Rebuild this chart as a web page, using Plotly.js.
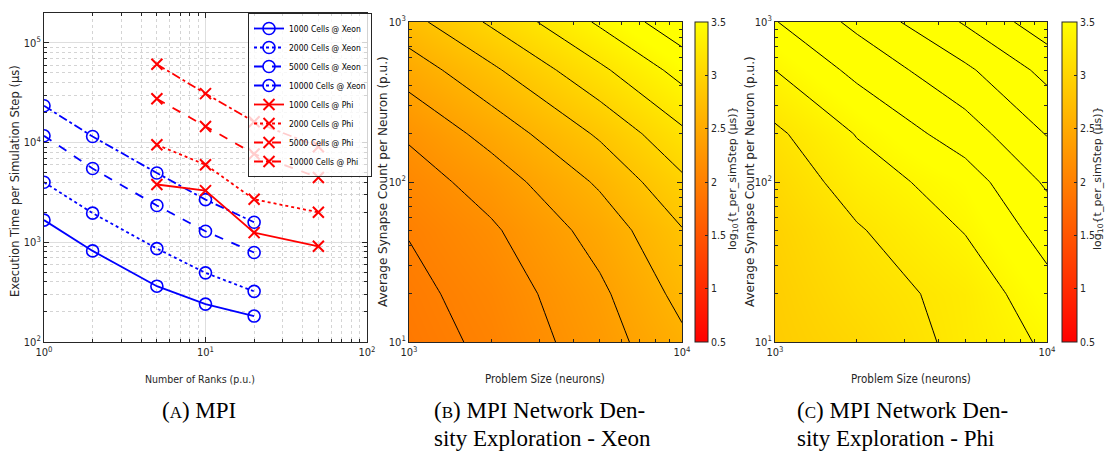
<!DOCTYPE html>
<html><head><meta charset="utf-8">
<script src="https://cdn.plot.ly/plotly-3.0.1.min.js"></script>
<style>html,body{margin:0;padding:0;background:#fff;} #chart{width:1108px;height:454px;}</style>
</head><body><div id="chart"></div>
<script>
// ---------- data: panel (a) ----------
const ranksXeon = [1, 2, 5, 10, 20];
const ranksPhi = [5, 10, 20, 50];
const xeon1000 = [1670, 820, 363, 240, 182];
const xeon2000 = [4000, 1960, 865, 494, 322];
const xeon5000 = [11700, 5500, 2340, 1290, 790];
const xeon10000 = [23400, 11500, 4960, 2680, 1590];
const phi1000 = [3800, 3300, 1250, 912];
const phi2000 = [9500, 6000, 2700, 2000];
const phi5000 = [27500, 14500, 7700, 4460];
const phi10000 = [61000, 31000, 16200, 9100];
const xeonNames = ['1000 Cells @ Xeon', '2000 Cells @ Xeon', '5000 Cells @ Xeon', '10000 Cells @ Xeon'];
const phiNames = ['1000 Cells @ Phi', '2000 Cells @ Phi', '5000 Cells @ Phi', '10000 Cells @ Phi'];
const rankTickVals = [1, 10, 100];
const rankTickText = ['10<sup>0</sup>', '10<sup>1</sup>', '10<sup>2</sup>'];
const timeTickVals = [100, 1000, 10000, 100000];
const timeTickText = ['10<sup>2</sup>', '10<sup>3</sup>', '10<sup>4</sup>', '10<sup>5</sup>'];

// ---------- data: panels (b) and (c) ----------
const problemSize = [1000, 2000, 5000, 10000];
const synapseCount = [10, 20, 50, 100, 200, 500, 1000];
const xeonLogT = [
  [1.92, 2.04, 2.31, 2.56],
  [1.95, 2.08, 2.36, 2.66],
  [2.01, 2.17, 2.48, 2.79],
  [2.10, 2.29, 2.63, 2.96],
  [2.23, 2.47, 2.83, 3.16],
  [2.49, 2.76, 3.16, 3.47],
  [2.73, 3.03, 3.43, 3.74]
];
const phiLogT = [
  [2.90, 3.03, 3.26, 3.43],
  [2.92, 3.10, 3.27, 3.53],
  [2.97, 3.18, 3.41, 3.68],
  [3.05, 3.30, 3.50, 3.83],
  [3.16, 3.41, 3.70, 4.01],
  [3.40, 3.65, 3.96, 4.26],
  [3.59, 3.85, 4.22, 4.52]
];
const sizeTickVals = [1000, 10000];
const sizeTickText = ['10<sup>3</sup>', '10<sup>4</sup>'];
const synTickVals = [10, 100, 1000];
const synTickText = ['10<sup>1</sup>', '10<sup>2</sup>', '10<sup>3</sup>'];
const cbTickVals = [0.5, 1, 1.5, 2, 2.5, 3, 3.5];
const cbTickText = ['0.5', '1', '1.5', '2', '2.5', '3', '3.5'];

// ---------- styling ----------
const W = 1108, H = 454;
const AX = '#262626';
const NARROW = 'DejaVu Sans Condensed, Liberation Sans Narrow, Arial Narrow, sans-serif';
const WIDE = 'DejaVu Sans, Verdana, sans-serif';
const SERIF = 'Liberation Serif, Times New Roman, serif';
const dashes = ['solid', 'dot', 'dash', 'dashdot'];
const px = v => v / W;
const py = v => 1 - v / H;

function minorVals(d0, d1) {
  const out = [];
  for (let d = d0; d < d1; d++) for (let m = 2; m <= 9; m++) out.push(m * Math.pow(10, d));
  return out;
}

const traces = [];
const xeonSeries = [xeon1000, xeon2000, xeon5000, xeon10000];
const phiSeries = [phi1000, phi2000, phi5000, phi10000];
xeonSeries.forEach((s, i) => traces.push({
  type: 'scatter', mode: 'lines+markers', x: ranksXeon, y: s, name: xeonNames[i],
  xaxis: 'x', yaxis: 'y',
  line: {color: 'rgb(0,0,255)', width: 1.8, dash: dashes[i]},
  marker: {symbol: 'circle-open', size: 12, color: 'rgb(0,0,255)', line: {width: 1.6, color: 'rgb(0,0,255)'}}
}));
phiSeries.forEach((s, i) => traces.push({
  type: 'scatter', mode: 'lines+markers', x: ranksPhi, y: s, name: phiNames[i],
  xaxis: 'x', yaxis: 'y',
  line: {color: 'rgb(255,0,0)', width: 1.8, dash: dashes[i]},
  marker: {symbol: 'x-thin-open', size: 11, color: 'rgb(255,0,0)', line: {width: 2, color: 'rgb(255,0,0)'}}
}));

const autumn = [[0, 'rgb(255,0,0)'], [1, 'rgb(255,255,0)']];
function cbar(xpx, thick) {
  return {
    x: px(xpx), xanchor: 'left', xref: 'paper', y: py(182), yanchor: 'middle',
    len: 320 / H, lenmode: 'fraction', thickness: thick, thicknessmode: 'pixels',
    xpad: 0, ypad: 0, outlinewidth: 1, outlinecolor: AX,
    tickmode: 'array', tickvals: cbTickVals, ticktext: cbTickText,
    ticks: 'inside', ticklen: 3, tickcolor: AX,
    tickfont: {family: NARROW, size: 10.5, color: AX}
  };
}
[[xeonLogT, 'x2', 'y2', 695, 13, 2.0, 3.6], [phiLogT, 'x3', 'y3', 1062, 15, 3.2, 4.4]].forEach(c => {
  traces.push({
    type: 'heatmap', x: problemSize, y: synapseCount, z: c[0], xaxis: c[1], yaxis: c[2],
    zsmooth: 'best', zmin: 0.5, zmax: 3.5, colorscale: autumn, showscale: true,
    colorbar: cbar(c[3], c[4]), hoverinfo: 'skip', showlegend: false
  });
  traces.push({
    type: 'contour', x: problemSize, y: synapseCount, z: c[0], xaxis: c[1], yaxis: c[2],
    autocontour: false, contours: {coloring: 'none', start: c[5], end: c[6], size: 0.2, showlines: true},
    line: {color: '#000', width: 1, smoothing: 0}, showscale: false, hoverinfo: 'skip', showlegend: false
  });
});

function logAxis(domain, range, tv, tt, anchor, minor, grid) {
  return {
    type: 'log', domain: domain, range: range, anchor: anchor,
    tickmode: 'array', tickvals: tv, ticktext: tt,
    ticks: 'inside', ticklen: 5, tickcolor: AX, tickwidth: 1,
    showline: true, linecolor: AX, linewidth: 1, mirror: 'ticks',
    showgrid: grid, gridcolor: '#dedede', gridwidth: 1,
    zeroline: false,
    tickfont: {family: NARROW, size: 11, color: AX},
    minor: {tickmode: 'array', tickvals: minor, ticks: 'inside', ticklen: 3, tickcolor: AX,
            showgrid: grid, gridcolor: '#d4d4d4', griddash: 'dot', gridwidth: 1},
    layer: 'above traces'
  };
}

function ann(text, x, y, font, extra) {
  return Object.assign({text: text, x: px(x), y: py(y), xref: 'paper', yref: 'paper',
    showarrow: false, xanchor: 'center', yanchor: 'middle', font: font}, extra || {});
}
const tfNarrow = {family: NARROW, size: 10.5, color: AX};
const tfNarrow2 = {family: NARROW, size: 11.5, color: AX};
const tfWide = {family: WIDE, size: 11.5, color: AX};
const tfWide2 = {family: WIDE, size: 12, color: AX};
const cbFont = {family: WIDE, size: 11, color: AX};
const capFont = {family: SERIF, size: 23, color: '#000'};
const sc = t => '<span style="font-size:17px">' + t + '</span>';

const layout = {
  width: W, height: H, margin: {l: 0, r: 0, t: 0, b: 0},
  paper_bgcolor: '#fff', plot_bgcolor: '#fff',
  showlegend: true,
  legend: {x: px(372), xanchor: 'right', y: py(13), yanchor: 'top',
           bgcolor: 'rgba(255,255,255,0.8)', bordercolor: AX, borderwidth: 1,
           font: {family: NARROW, size: 8.5, color: '#000'}, itemwidth: 30, tracegroupgap: 0},
  xaxis: logAxis([px(44), px(367)], [0, 2], rankTickVals, rankTickText, 'y', minorVals(0, 2), true),
  yaxis: logAxis([py(342), py(13)], [2, 5.3], timeTickVals, timeTickText, 'x', minorVals(2, 6), true),
  xaxis2: logAxis([px(409), px(682)], [3, 4], sizeTickVals, sizeTickText, 'y2', minorVals(3, 4), false),
  yaxis2: logAxis([py(342), py(22)], [1, 3], synTickVals, synTickText, 'x2', minorVals(1, 3), false),
  xaxis3: logAxis([px(775), px(1047)], [3, 4], sizeTickVals, sizeTickText, 'y3', minorVals(3, 4), false),
  yaxis3: logAxis([py(342), py(22)], [1, 3], synTickVals, synTickText, 'x3', minorVals(1, 3), false),
  annotations: [
    ann('Execution Time per Simulation Step (μs)', 15, 181, tfWide, {textangle: -90}),
    ann('Number of Ranks (p.u.)', 200, 379, tfNarrow),
    ann('Average Synapse Count per Neuron (p.u.)', 383, 182, tfWide2, {textangle: -90}),
    ann('Problem Size (neurons)', 545, 379, tfNarrow2),
    ann('log<sub>10</sub>{t_per_simStep (μs)}', 733, 178, cbFont, {textangle: -90}),
    ann('Average Synapse Count per Neuron (p.u.)', 750, 182, tfWide2, {textangle: -90}),
    ann('Problem Size (neurons)', 911, 379, tfNarrow2),
    ann('log<sub>10</sub>{t_per_simStep (μs)}', 1098, 178, cbFont, {textangle: -90}),
    ann('(' + sc('A') + ') MPI', 160, 410, capFont, {xanchor: 'left'}),
    ann('(' + sc('B') + ') MPI Network Den-', 432, 410, capFont, {xanchor: 'left'}),
    ann('sity Exploration - Xeon', 432, 438, capFont, {xanchor: 'left'}),
    ann('(' + sc('C') + ') MPI Network Den-', 795, 410, capFont, {xanchor: 'left'}),
    ann('sity Exploration - Phi', 795, 438, capFont, {xanchor: 'left'})
  ]
};

Plotly.newPlot('chart', traces, layout, {displayModeBar: false, staticPlot: true});
</script>
</body></html>
